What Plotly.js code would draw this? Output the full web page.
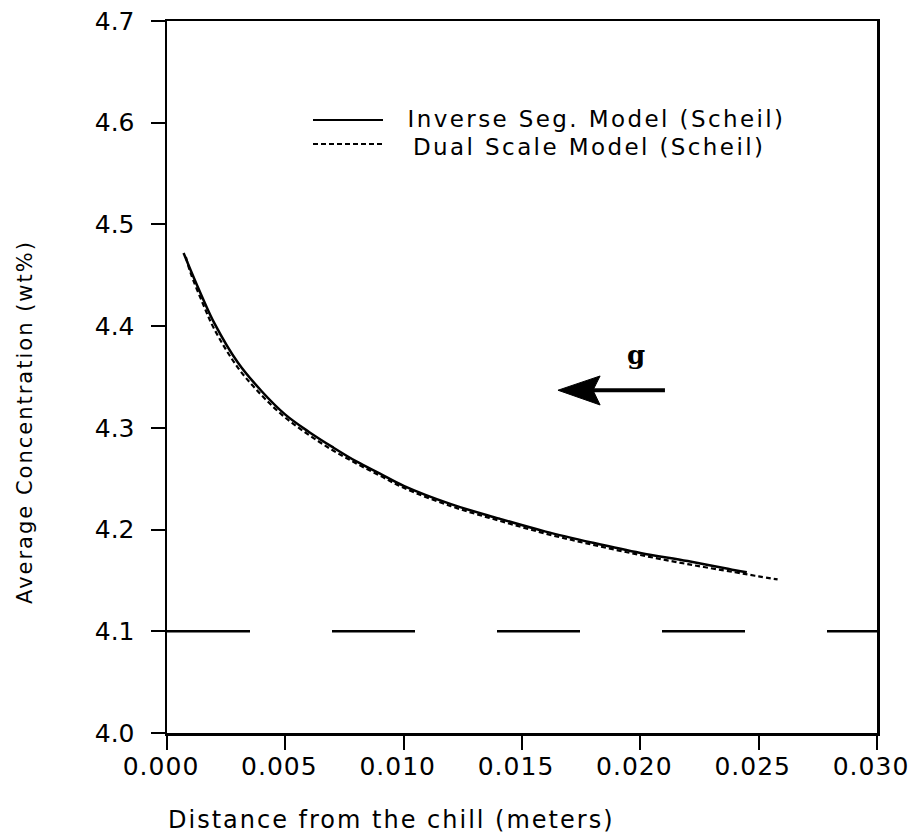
<!DOCTYPE html>
<html>
<head>
<meta charset="utf-8">
<script src="https://cdn.plot.ly/plotly-3.0.1.min.js"></script>
<style>
  html, body { margin: 0; padding: 0; background: #fff; }
  #chart { width: 914px; height: 838px; }
  .main-svg .xtick text { letter-spacing: 1px; }
  .main-svg .annotation-text { letter-spacing: 2px; }
  .main-svg .legtext .annotation-text { letter-spacing: 2.4px; }
</style>
</head>
<body>
<div id="chart"></div>
<script>
// Inverse Seg. Model (Scheil) - solid
var invX = [0.0007, 0.001, 0.0015, 0.002, 0.003, 0.004, 0.005, 0.006, 0.007, 0.008, 0.009, 0.010, 0.012, 0.014, 0.016, 0.018, 0.020, 0.022, 0.024, 0.0245];
var invY = [4.472, 4.455, 4.428, 4.403, 4.364, 4.336, 4.313, 4.296, 4.281, 4.267, 4.255, 4.243, 4.225, 4.211, 4.198, 4.187, 4.177, 4.169, 4.160, 4.158];

// Dual Scale Model (Scheil) - dashed
var dualX = [0.0008, 0.001, 0.0015, 0.002, 0.003, 0.004, 0.005, 0.006, 0.007, 0.008, 0.009, 0.010, 0.012, 0.014, 0.016, 0.018, 0.020, 0.022, 0.024, 0.025, 0.0258];
var dualY = [4.468, 4.452, 4.423, 4.397, 4.359, 4.332, 4.310, 4.293, 4.278, 4.265, 4.253, 4.241, 4.223, 4.209, 4.196, 4.185, 4.175, 4.166, 4.158, 4.154, 4.151];

// Initial concentration reference line
var refX = [0.0, 0.030];
var refY = [4.1, 4.1];

var xTicks = [0.000, 0.005, 0.010, 0.015, 0.020, 0.025, 0.030];
var xTickText = ["0.000", "0.005", "0.010", "0.015", "0.020", "0.025", "0.030"];
var yTicks = [4.0, 4.1, 4.2, 4.3, 4.4, 4.5, 4.6, 4.7];
var yTickText = ["4.0", "4.1", "4.2", "4.3", "4.4", "4.5", "4.6", "4.7"];

var legendNames = ["Inverse Seg. Model (Scheil)", "Dual Scale Model (Scheil)"];

var FONT = "DejaVu Sans, Liberation Sans, sans-serif";

var traces = [
  { x: invX, y: invY, mode: "lines", name: legendNames[0],
    line: { color: "#000", width: 2.5, shape: "spline" } },
  { x: dualX, y: dualY, mode: "lines", name: legendNames[1],
    line: { color: "#000", width: 2.2, dash: "5px,3px", shape: "spline" } },
  { x: refX, y: refY, mode: "lines", name: "C0",
    line: { color: "#000", width: 2.5, dash: "83px,82px" } }
];

var layout = {
  width: 914, height: 838,
  margin: { l: 167, r: 37, t: 21, b: 105 },
  paper_bgcolor: "#fff", plot_bgcolor: "#fff",
  showlegend: false,
  font: { family: FONT, color: "#000", size: 22 },
  xaxis: {
    range: [0, 0.030], tickvals: xTicks, ticktext: xTickText,
    showgrid: false, zeroline: false,
    showline: true, mirror: true, linecolor: "#000", linewidth: 2.5,
    ticks: "outside", ticklen: 14, tickwidth: 2, tickcolor: "#000",
    tickfont: { family: FONT, size: 25, color: "#000" },
    ticklabelshift: -6,
    ticklabelstandoff: -5
  },
  yaxis: {
    range: [4.0, 4.7], tickvals: yTicks, ticktext: yTickText,
    showgrid: false, zeroline: false,
    showline: true, mirror: true, linecolor: "#000", linewidth: 2.5,
    ticks: "outside", ticklen: 14, tickwidth: 2, tickcolor: "#000",
    tickfont: { family: FONT, size: 25, color: "#000" },
    ticklabelstandoff: 11
  },
  shapes: [
    // legend sample lines
    { type: "line", xref: "paper", yref: "paper", x0: (313-167)/710, x1: (383-167)/710,
      y0: (733-120)/712, y1: (733-120)/712, line: { color: "#000", width: 2 } },
    { type: "line", xref: "paper", yref: "paper", x0: (313-167)/710, x1: (383-167)/710,
      y0: (733-144)/712, y1: (733-144)/712, line: { color: "#000", width: 2, dash: "5px,3px" } },
    // gravity arrow shaft
    { type: "line", xref: "x", yref: "y", x0: 0.02104, x1: 0.0178, y0: 4.337, y1: 4.337,
      line: { color: "#000", width: 4 } },
    // gravity arrow head
    { type: "path", xref: "x", yref: "y",
      path: "M 0.01652 4.337 L 0.01830 4.351 L 0.01800 4.337 L 0.01830 4.3225 Z",
      fillcolor: "#000", line: { color: "#000", width: 1 } }
  ],
  annotations: [
    { xref: "paper", yref: "paper", x: (596-167)/710, y: (733-119)/712, xanchor: "center", yanchor: "middle",
      text: legendNames[0], showarrow: false, font: { family: FONT, size: 23, color: "#000" } },
    { xref: "paper", yref: "paper", x: (589-167)/710, y: (733-147)/712, xanchor: "center", yanchor: "middle",
      text: legendNames[1], showarrow: false, font: { family: FONT, size: 23, color: "#000" } },
    { xref: "x", yref: "y", x: 0.01986, y: 4.372, text: "<b>g</b>", showarrow: false,
      font: { family: "DejaVu Serif, Liberation Serif, serif", size: 26, color: "#000" } },
    { xref: "paper", yref: "paper", x: (391-167)/710, y: (733-820)/712, xanchor: "center", yanchor: "middle",
      text: "Distance from the chill (meters)", showarrow: false,
      font: { family: FONT, size: 24, color: "#000" } },
    { xref: "paper", yref: "paper", x: (25-167)/710, y: (733-422)/712, xanchor: "center", yanchor: "middle",
      text: "Average Concentration (wt%)", showarrow: false, textangle: -90,
      font: { family: FONT, size: 21, color: "#000" } }
  ]
};

Plotly.newPlot("chart", traces, layout, { staticPlot: true, displayModeBar: false }).then(function (gd) {
  var anns = gd.querySelectorAll(".annotation");
  if (anns[0]) anns[0].classList.add("legtext");
  if (anns[1]) anns[1].classList.add("legtext");
});
</script>
</body>
</html>
